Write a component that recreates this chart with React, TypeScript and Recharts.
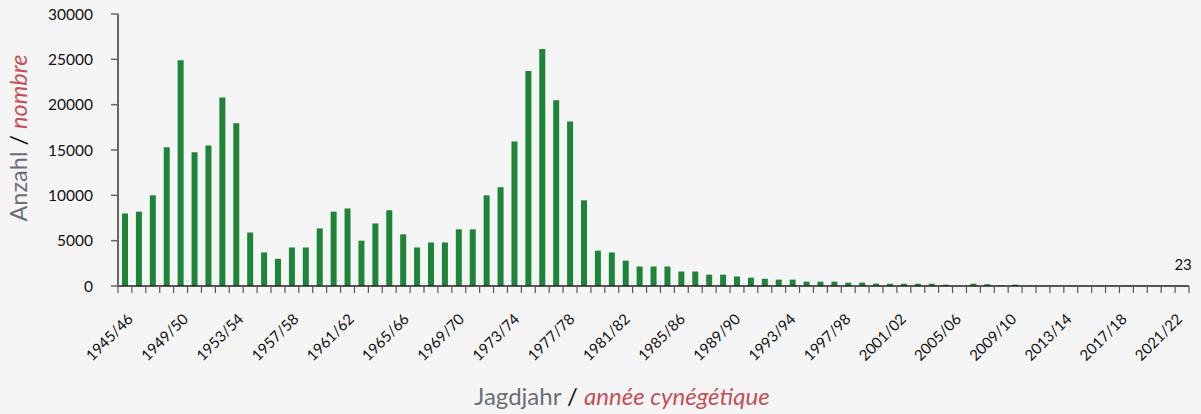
import React from "react";
import { BarChart, Bar, XAxis, YAxis, LabelList } from "recharts";

const categories = [
  "1945/46","1946/47","1947/48","1948/49","1949/50","1950/51","1951/52","1952/53","1953/54","1954/55",
  "1955/56","1956/57","1957/58","1958/59","1959/60","1960/61","1961/62","1962/63","1963/64","1964/65",
  "1965/66","1966/67","1967/68","1968/69","1969/70","1970/71","1971/72","1972/73","1973/74","1974/75",
  "1975/76","1976/77","1977/78","1978/79","1979/80","1980/81","1981/82","1982/83","1983/84","1984/85",
  "1985/86","1986/87","1987/88","1988/89","1989/90","1990/91","1991/92","1992/93","1993/94","1994/95",
  "1995/96","1996/97","1997/98","1998/99","1999/00","2000/01","2001/02","2002/03","2003/04","2004/05",
  "2005/06","2006/07","2007/08","2008/09","2009/10","2010/11","2011/12","2012/13","2013/14","2014/15",
  "2015/16","2016/17","2017/18","2018/19","2019/20","2020/21","2021/22",
];

const counts = [
  8000, 8200, 10000, 15300, 24900, 14750, 15500, 20800, 17950, 5900,
  3700, 3000, 4250, 4250, 6350, 8200, 8550, 5000, 6900, 8350,
  5700, 4250, 4800, 4800, 6250, 6250, 10000, 10900, 15950, 23700,
  26150, 20500, 18150, 9450, 3900, 3700, 2800, 2150, 2150, 2150,
  1600, 1600, 1250, 1250, 1050, 920, 800, 700, 700, 480,
  480, 480, 370, 370, 260, 250, 250, 250, 250, 150,
  0, 250, 200, 60, 150, 30, 25, 20, 20, 25,
  20, 20, 25, 20, 20, 25, 23,
];

const tickLabels = [
  "1945/46","1949/50","1953/54","1957/58","1961/62","1965/66","1969/70","1973/74","1977/78","1981/82",
  "1985/86","1989/90","1993/94","1997/98","2001/02","2005/06","2009/10","2013/14","2017/18","2021/22",
];

const labelledYear = "2021/22";

const yTicks = [0, 5000, 10000, 15000, 20000, 25000, 30000];

const data = categories.map((c, i) => ({
  year: c,
  value: counts[i],
  lbl: c === labelledYear ? counts[i] : null,
}));

const FONT = "Lato, 'Open Sans', sans-serif";
const GREEN = "#1d8439";
const RED = "#c64f59";
const GREY = "#6b6e74";

const XTick = (props: any) => {
  const { x, y, payload } = props;
  const half = payload && typeof payload.offset === "number" && payload.offset > 0 ? payload.offset : 6.95;
  const label = payload ? String(payload.value) : "";
  const idx = categories.indexOf(label);
  const show = tickLabels.includes(label);
  const isLast = idx === categories.length - 1;
  const frac = idx >= 0 ? idx / (categories.length - 1) : 0;
  const ax = x + 9 - 8 * frac;
  const ay = y + 34;
  return (
    <g>
      <line x1={x - half} x2={x - half} y1={y} y2={y + 7} stroke="#555" strokeWidth={1.2} />
      {isLast && <line x1={x + half} x2={x + half} y1={y} y2={y + 7} stroke="#555" strokeWidth={1.2} />}
      {show && (
        <text
          x={ax}
          y={ay}
          textAnchor="end"
          fontSize={15}
          fontFamily={FONT}
          fill="#111"
          transform={`rotate(-45, ${ax}, ${ay})`}
        >
          {label}
        </text>
      )}
    </g>
  );
};

const YTitle = () => (
  <text
    x={27}
    y={138}
    textAnchor="middle"
    fontSize={23.5}
    fontFamily={FONT}
    transform="rotate(-90, 27, 138)"
  >
    <tspan fill={GREY}>Anzahl</tspan>
    <tspan fill="#111"> / </tspan>
    <tspan fill={RED} fontStyle="italic">nombre</tspan>
  </text>
);

const XTitle = () => (
  <text x={622} y={405} textAnchor="middle" fontSize={24} fontFamily={FONT}>
    <tspan fill={GREY}>Jagdjahr</tspan>
    <tspan fill="#111"> / </tspan>
    <tspan fill={RED} fontStyle="italic">année cynégétique</tspan>
  </text>
);

const TopLabel = (props: any) => {
  const { x, y, width, value } = props;
  if (value === null || value === undefined || value === "") return null;
  return (
    <text x={Number(x) + Number(width) / 2 + 1} y={Number(y) - 16} textAnchor="middle" fontSize={15} fontFamily={FONT} fill="#111">
      {value}
    </text>
  );
};

export default function App() {
  return (
    <div style={{ position: "absolute", left: 0, top: 0, width: 1201, height: 414, background: "#f5f5f5" }}>
      <BarChart
        width={1201}
        height={414}
        data={data}
        margin={{ top: 14, right: 12, bottom: 0, left: 0 }}
      >
        <XAxis
          dataKey="year"
          height={128}
          interval={0}
          tickSize={0}
          tickMargin={0}
          tickLine={false}
          axisLine={{ stroke: "#222", strokeWidth: 1.5 }}
          tick={<XTick />}
          label={{ content: () => <XTitle /> }}
        />
        <YAxis
          width={118}
          domain={[0, 30000]}
          ticks={yTicks}
          interval={0}
          tickSize={7}
          tickMargin={18}
          axisLine={{ stroke: "#666", strokeWidth: 2 }}
          tickLine={{ stroke: "#666", strokeWidth: 1.5 }}
          tick={{ fill: "#111", fontSize: 15.5, fontFamily: FONT }}
          label={{ content: () => <YTitle /> }}
        />
        <Bar dataKey="value" fill={GREEN} barSize={6} isAnimationActive={false}>
          <LabelList dataKey="lbl" content={<TopLabel />} />
        </Bar>
      </BarChart>
    </div>
  );
}
